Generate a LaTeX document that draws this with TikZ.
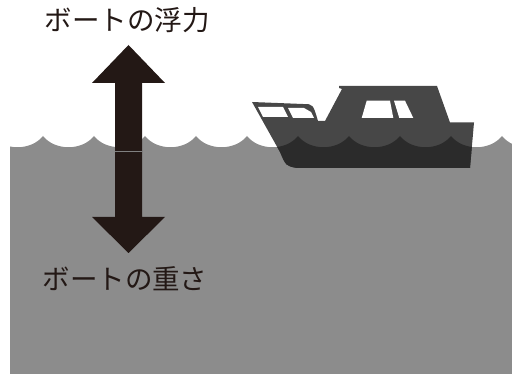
\documentclass[tikz,border=0pt]{standalone}
\usepackage{fontspec}
\usepackage{xcolor}
\newfontfamily\jpfont{Noto Sans CJK JP}
\definecolor{forcebrown}{HTML}{231815}
\definecolor{sea}{HTML}{8C8C8C}
\definecolor{cabin}{HTML}{474747}
\definecolor{underwater}{HTML}{2B2B2B}

% wavy sea surface, crests every 51pt
\newcommand\seashape{(-8,136) \foreach \c in {-8,43,...,502}{
    .. controls (\c+12,151) and (\c+39,151) .. (\c+51,136)}
    -- (553,374) -- (-8,374) -- cycle}
\newcommand\boatshape{(252,102) -- (303,104) .. controls (313,104) .. (318,121)
    -- (325,121) -- (342,89) -- (339,88) -- (339,86) -- (437,86)
    -- (450,122.5) -- (474,122.5) -- (470,168) -- (297,168)
    .. controls (286,166) .. (280,152) -- cycle}

\begin{document}
\begin{tikzpicture}[x=1pt, y=-1pt,
    force/.style={fill=forcebrown},
    caption/.style={text=forcebrown, font=\jpfont\fontsize{27.5}{31}\selectfont, inner sep=0pt}]
\useasboundingbox (0,0) rectangle (512,374);
\coordinate (W) at (128.5,151);
\coordinate (U) at (128.5,45);
\coordinate (D) at (128.5,253);

\begin{scope}
\clip (10,0) rectangle (512,374);
\fill[sea] \seashape;
\end{scope}

% boat, darker below the waterline
\fill[cabin] \boatshape;
\begin{scope}
\clip \boatshape;
\fill[underwater] \seashape;
\end{scope}
\fill[white] (258,107) -- (283,107) -- (288,117) -- (263,117) -- cycle;
\fill[white] (288,108) -- (304,108) -- (311,112) -- (314,118) -- (293,118) -- cycle;
\fill[white] (366.7,100.7) -- (390,100.7) -- (393.3,118) -- (361.7,118) -- cycle;
\fill[white] (394,100.7) -- (405,100.7) -- (413.3,118) -- (399.3,118) -- cycle;

% forces
\fill[force] (W) ++(-13.5,0) |- (92,83) -- (U) -- (165,83) -| ++(-23,68) -- cycle;
\fill[force] (W) ++(-13.5,0) |- (92,217) -- (D) -- (165,217) -| ++(-23,-66) -- cycle;
\draw[gray, line width=0.6pt] (115,151) -- (142,151);

\node[caption] (buoyancy) at (127.5,20) {ボートの浮力};
\node[caption] (weight) at (125,279) {ボートの重さ};
\end{tikzpicture}
\end{document}
